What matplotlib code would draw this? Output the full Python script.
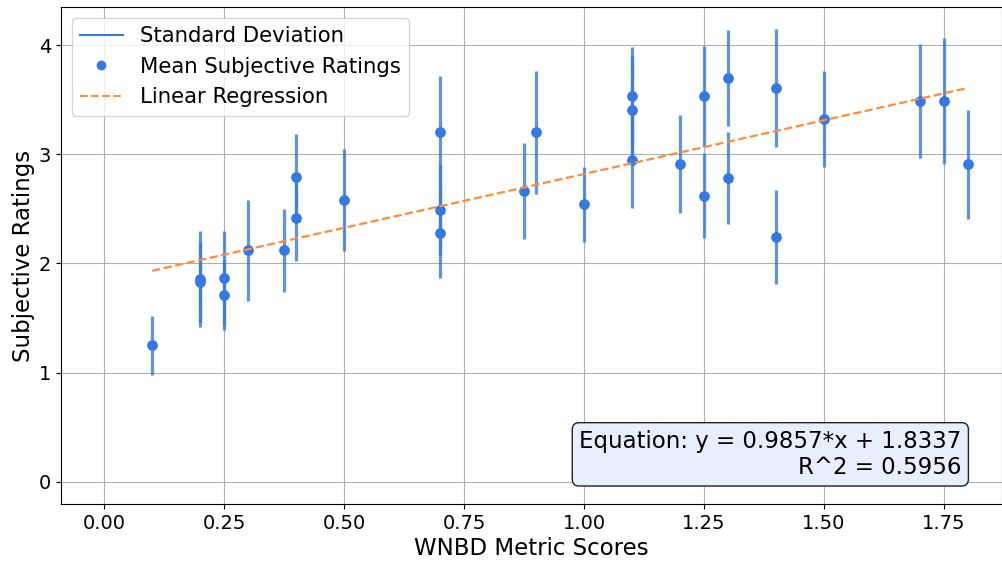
import numpy as np
import matplotlib
matplotlib.use("Agg")
import matplotlib.pyplot as plt
from matplotlib.lines import Line2D

# metric scores (x), mean subjective ratings and their standard deviations
wnbd_scores = [0.10, 0.20, 0.20, 0.25, 0.25, 0.30, 0.375, 0.40, 0.40, 0.50,
               0.70, 0.70, 0.70, 0.875, 0.90, 1.00, 1.10, 1.10, 1.10, 1.20,
               1.25, 1.25, 1.30, 1.30, 1.40, 1.40, 1.50, 1.70, 1.75, 1.80]
mean_ratings = [1.25, 1.86, 1.83, 1.87, 1.71, 2.12, 2.12, 2.79, 2.42, 2.58,
                3.20, 2.49, 2.28, 2.66, 3.20, 2.54, 3.53, 3.41, 2.95, 2.91,
                3.53, 2.62, 3.70, 2.78, 3.61, 2.24, 3.32, 3.49, 3.49, 2.91]
std_ratings = [0.27, 0.44, 0.37, 0.43, 0.32, 0.46, 0.38, 0.40, 0.40, 0.47,
               0.52, 0.41, 0.41, 0.44, 0.56, 0.34, 0.45, 0.50, 0.44, 0.45,
               0.46, 0.39, 0.44, 0.42, 0.54, 0.43, 0.44, 0.52, 0.58, 0.50]

# regression result as printed on the chart
slope = 0.9857
intercept = 1.8337
r_squared = 0.5956

BLUE = "#3479e2"
ORANGE = "#ff8c3a"

x = np.array(wnbd_scores)
y = np.array(mean_ratings)
e = np.array(std_ratings)

fig = plt.figure(figsize=(10.03, 5.61), dpi=100)
ax = fig.add_axes([0.0608, 0.1016, 0.9382, 0.8859])

ax.errorbar(x, y, yerr=e, fmt="none", ecolor=BLUE, elinewidth=2.3, alpha=0.8, zorder=2)
ax.scatter(x, y, color=BLUE, s=45, zorder=3)
x_line = np.array([x.min(), x.max()])
ax.plot(x_line, slope * x_line + intercept, color=ORANGE, linestyle="--", linewidth=1.6, zorder=4)

ax.set_xlim(-0.09, 1.871)
ax.set_ylim(-0.205, 4.35)
ax.set_xticks(np.arange(0, 1.76, 0.25))
ax.set_yticks([0, 1, 2, 3, 4])
ax.tick_params(labelsize=14)
ax.grid(True, color="#b0b0b0", linewidth=0.8)
ax.set_axisbelow(True)

ax.set_xlabel("WNBD Metric Scores", fontsize=16.5, labelpad=3)
ax.set_ylabel("Subjective Ratings", fontsize=16.5, labelpad=3)

handles = [
    Line2D([], [], color=BLUE, linewidth=1.5),
    Line2D([], [], color=BLUE, marker="o", linestyle="none", markersize=6),
    Line2D([], [], color=ORANGE, linestyle="--", linewidth=1.5),
]
labels = ["Standard Deviation", "Mean Subjective Ratings", "Linear Regression"]
ax.legend(handles, labels, loc="upper left", fontsize=15.3)

ax.text(0.957, 0.05, f"Equation: y = {slope}*x + {intercept}\nR^2 = {r_squared}",
        transform=ax.transAxes, ha="right", va="bottom", fontsize=16.5,
        multialignment="right",
        bbox=dict(boxstyle="round", facecolor="#e8effc", edgecolor="#222222"))

fig.savefig("out.png", dpi=100)
